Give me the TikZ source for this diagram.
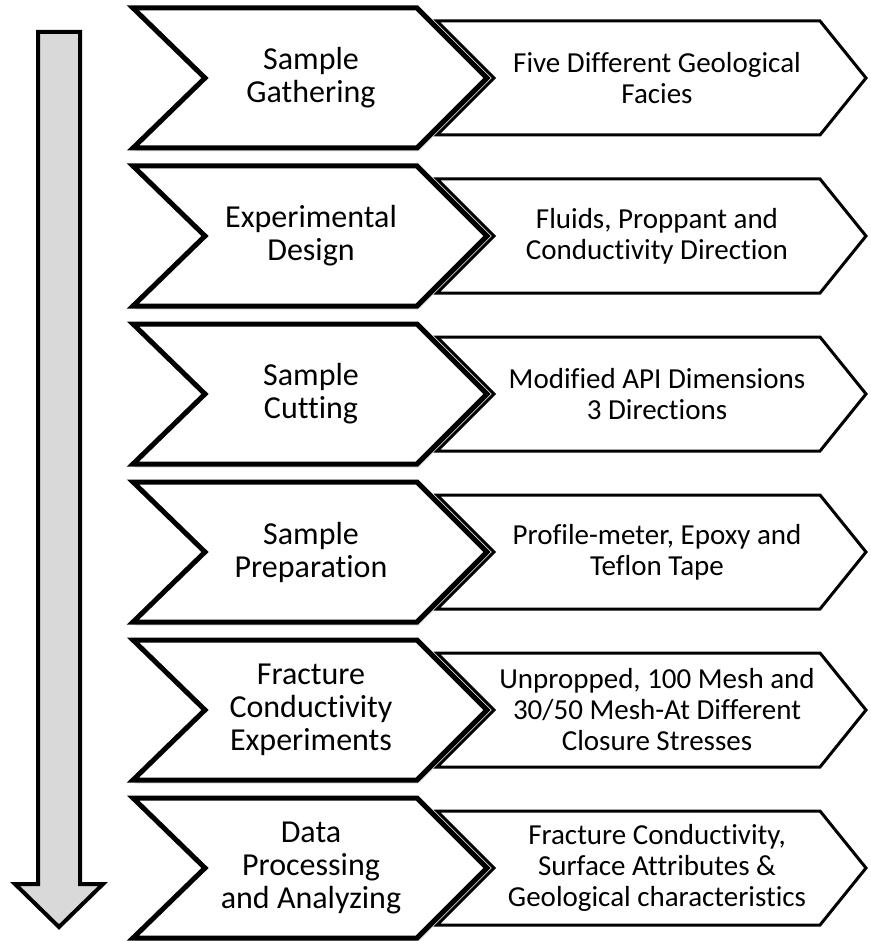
\documentclass[tikz,border=0pt]{standalone}
\usepackage{fontspec}
\setmainfont{Carlito}[Ligatures=NoCommon]
\usetikzlibrary{shadows}
\tikzset{
  >=latex,
}
\tikzstyle{stagebox}=[line width=5pt,draw=black,fill=white,drop shadow={opacity=.25,shadow xshift=1.5pt,shadow yshift=-3.5pt}]
\tikzstyle{infobox}=[line width=3pt,draw=black,fill=white]
\tikzstyle{flowarrow}=[line width=4pt,draw=black,fill=black!15]
\tikzstyle{stagetext}=[align=center,font=\fontsize{32}{33}\selectfont]
\tikzstyle{infotext}=[align=center,font=\fontsize{29}{31}\selectfont]

\begin{document}
\begin{tikzpicture}[x=1pt,y=-1pt]
    \useasboundingbox (0,0) rectangle (870,941);
    % one row per stage
    \foreach \i/\c/\stagename/\infoname in {
        1/78/{Sample\\Gathering}/{Five Different Geological\\Facies},
        2/236/{Experimental\\Design}/{Fluids, Proppant and\\Conductivity Direction},
        3/394/{Sample\\Cutting}/{Modified API Dimensions\\3 Directions},
        4/552/{Sample\\Preparation}/{Profile-meter, Epoxy and\\Teflon Tape},
        5/710/{Fracture\\Conductivity\\Experiments}/{Unpropped, 100 Mesh and\\30/50 Mesh-At Different\\Closure Stresses},
        6/868/{Data\\Processing\\and Analyzing}/{Fracture Conductivity,\\Surface Attributes \&\\Geological characteristics}}{
      \draw[infobox] (437,\c-57)--(820,\c-57)--(866,\c)--(820,\c+57)--(437,\c+57)--(494,\c)--cycle;
      \draw[stagebox] (133,\c-70)--(417,\c-70)--(487,\c)--(417,\c+70)--(133,\c+70)--(205,\c)--cycle;
      \node[stagetext] (stage\i) at (311,\c) {\stagename};
      \node[infotext] (info\i) at (657,\c) {\infoname};
    }
    % big arrow on the left
    \draw[flowarrow] (38,32)--(80,32)--(80,884)--(103,884)--(59,927)--(15,884)--(38,884)--cycle;
\end{tikzpicture}
\end{document}
